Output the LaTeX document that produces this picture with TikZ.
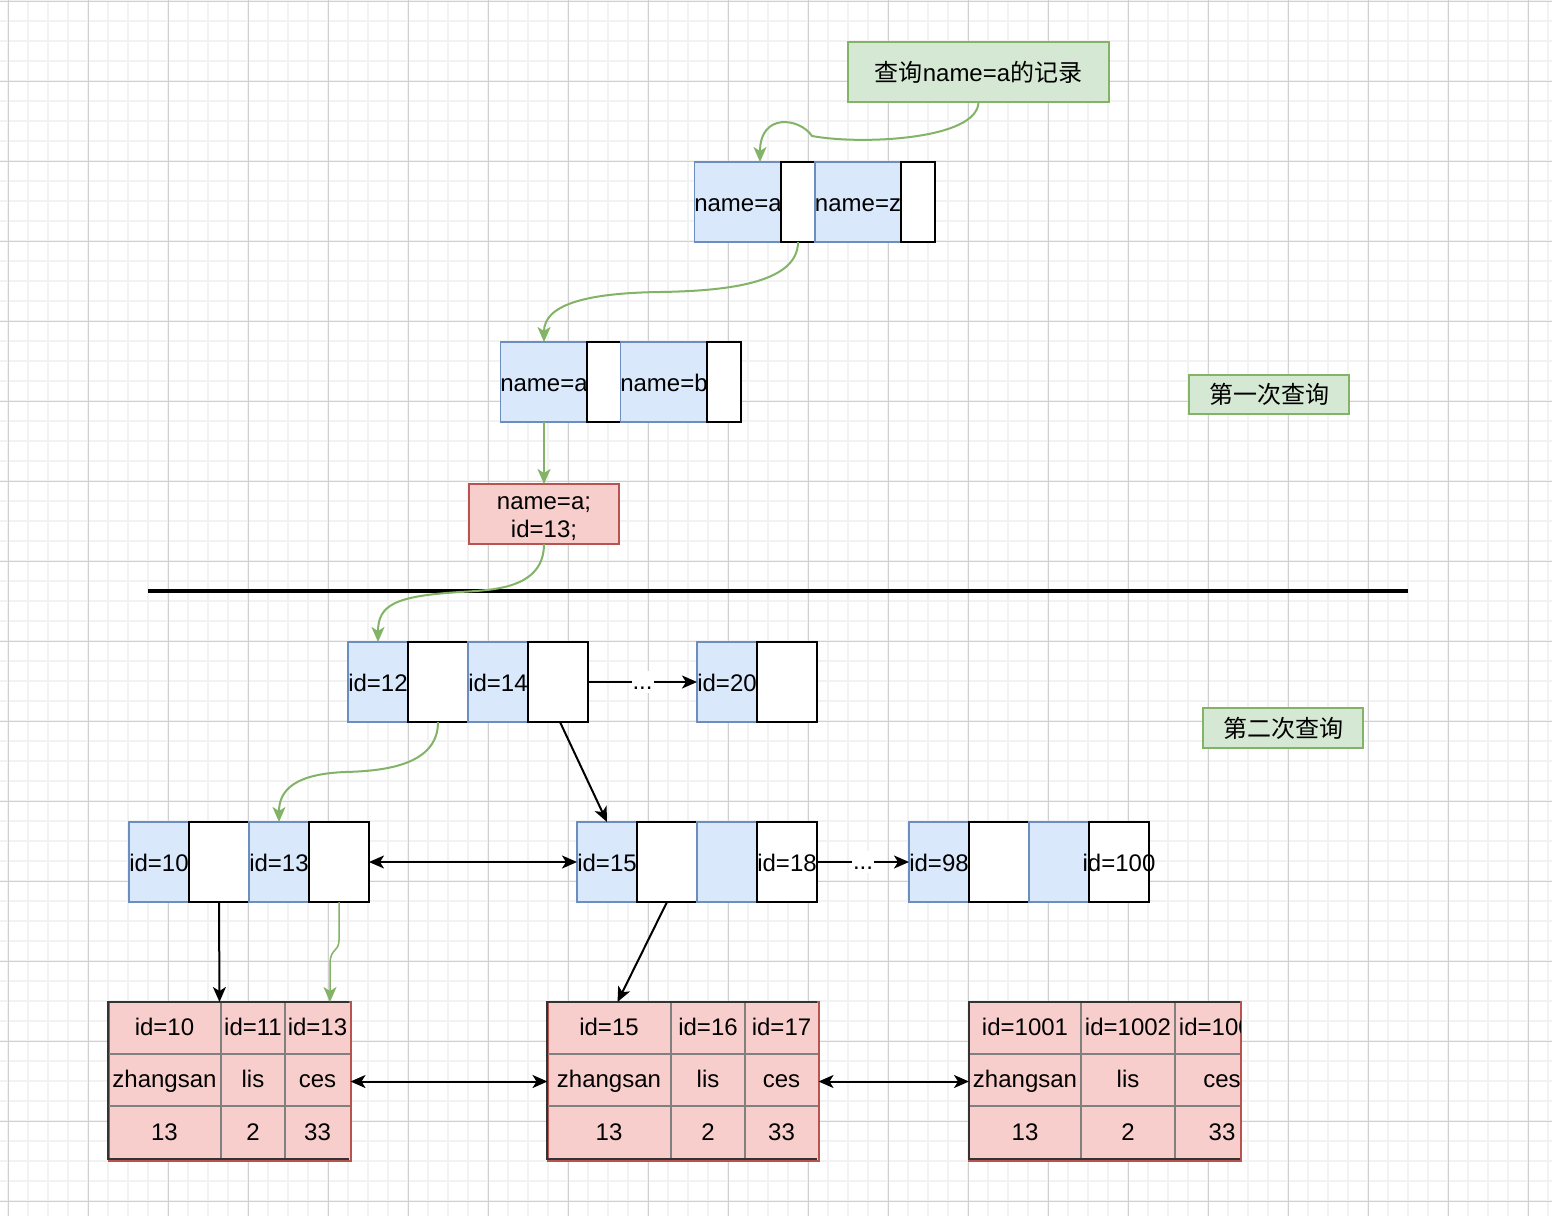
\documentclass[tikz,border=0pt]{standalone}
\usepackage{fontspec}
\setmainfont{Liberation Sans}
\newfontfamily\cjk{Noto Sans CJK SC}
\usetikzlibrary{arrows.meta,calc}
\definecolor{bfill}{HTML}{DAE8FC}
\definecolor{bline}{HTML}{6C8EBF}
\definecolor{gfill}{HTML}{D5E8D4}
\definecolor{gline}{HTML}{82B366}
\definecolor{rfill}{HTML}{F8CECC}
\definecolor{rline}{HTML}{B85450}
\definecolor{gridminor}{HTML}{F2F2F2}
\definecolor{gridmajor}{HTML}{D0D0D0}
\definecolor{tdarkc}{HTML}{333333}
\definecolor{tgrayc}{HTML}{808080}
\begin{document}
\begin{tikzpicture}[x=1pt,y=-1pt,
  every node/.style={font=\fontsize{24pt}{28pt}\selectfont, inner sep=0pt, outer sep=0pt, text height=22pt, text depth=4pt},
  bluebox/.style={rectangle, fill=bfill, draw=bline, line width=1.5pt, minimum height=80pt},
  whitebox/.style={rectangle, fill=white, draw=black, line width=2pt, minimum height=80pt},
  greenbox/.style={rectangle, fill=gfill, draw=gline, line width=2pt},
  redbox/.style={rectangle, fill=rfill, draw=rline, line width=1.5pt},
  tablebox/.style={rectangle, fill=rfill, draw=rline, line width=2pt},
  tdark/.style={draw=tdarkc, line width=2.5pt},
  tgray/.style={draw=tgrayc, line width=2pt},
  tip/.tip={Stealth[length=15pt,width=13pt,inset=4pt]},
  arr/.style={-tip, line width=2pt, draw=black},
  darr/.style={tip-tip, line width=2pt, draw=black},
  garr/.style={-tip, line width=2pt, draw=gline},
  gthin/.style={-tip, line width=1.5pt, draw=gline},
  dots/.style={fill=white, inner xsep=1pt, inner ysep=0pt, text height=18pt, text depth=4pt}
]
\useasboundingbox (0,0) rectangle (1552,1216);
% background grid
\fill[white] (0,0) rectangle (1552,1216);
\foreach \gx in {8,28,...,1548} \draw[gridminor, line width=1.5pt] (\gx,0) -- (\gx,1216);
\foreach \gy in {1,21,...,1216} \draw[gridminor, line width=1.5pt] (0,\gy) -- (1552,\gy);
\foreach \gx in {8,88,...,1548} \draw[gridmajor, line width=1pt] (\gx,0) -- (\gx,1216);
\foreach \gy in {1,81,...,1216} \draw[gridmajor, line width=1pt] (0,\gy) -- (1552,\gy);

% query label
\node[greenbox, minimum width=261pt, minimum height=60pt] (gq) at (978.5,72) {{\cjk 查询}name=a{\cjk 的记录}};
\node[greenbox, minimum width=160pt, minimum height=39pt] (l1) at (1269,394) {\cjk 第一次查询};
\node[greenbox, minimum width=160pt, minimum height=40pt] (l2) at (1283,728) {\cjk 第二次查询};

% row 1
\node[bluebox, minimum width=86pt] (r1a) at (738,202) {name=a};
\node[whitebox, minimum width=34pt] (r1b) at (798,202) {};
\node[bluebox, minimum width=86pt] (r1c) at (858,202) {name=z};
\node[whitebox, minimum width=34pt] (r1d) at (918,202) {};

% row 2
\node[bluebox, minimum width=86pt] (r2a) at (544,382) {name=a};
\node[whitebox, minimum width=34pt] (r2b) at (604,382) {};
\node[bluebox, minimum width=86pt] (r2c) at (664,382) {name=b};
\node[whitebox, minimum width=34pt] (r2d) at (724,382) {};

% result of first query
\node[redbox, minimum width=150pt, minimum height=60pt] (res) at (544,514) {};
\node[align=center, text height=, text depth=] (restext) at (544,519) {name=a;\\id=13;};

% separator
\draw[line width=3.5pt, black] (148,591) coordinate (sepL) -- (1408,591) coordinate (sepR);

% row 3
\node[bluebox, minimum width=60pt] (r3a) at (378,682) {id=12};
\node[whitebox, minimum width=60pt] (r3b) at (438,682) {};
\node[bluebox, minimum width=60pt] (r3c) at (498,682) {id=14};
\node[whitebox, minimum width=60pt] (r3d) at (558,682) {};
\node[bluebox, minimum width=60pt] (r3e) at (727,682) {id=20};
\node[whitebox, minimum width=60pt] (r3f) at (787,682) {};

% row 4
\node[bluebox, minimum width=60pt] (r4a) at (159,862) {id=10};
\node[whitebox, minimum width=60pt] (r4b) at (219,862) {};
\node[bluebox, minimum width=60pt] (r4c) at (279,862) {id=13};
\node[whitebox, minimum width=60pt] (r4d) at (339,862) {};

\node[bluebox, minimum width=60pt] (r4e) at (607,862) {id=15};
\node[whitebox, minimum width=60pt] (r4f) at (667,862) {};
\node[bluebox, minimum width=60pt] (r4g) at (727,862) {};
\node[whitebox, minimum width=60pt] (r4h) at (787,862) {id=18};

\node[bluebox, minimum width=60pt] (r4i) at (939,862) {id=98};
\node[whitebox, minimum width=60pt] (r4j) at (999,862) {};
\node[bluebox, minimum width=60pt] (r4k) at (1059,862) {};
\node[whitebox, minimum width=60pt] (r4l) at (1119,862) {};
\node (r4ltext) at (1119,862) {id=100};

% tables
% table 1
\node[tablebox, minimum width=242pt, minimum height=159pt] (t1) at (229.5,1081.5) {};
\draw[tgray] (221,1002) -- (221,1159) (285,1002) -- (285,1159)
  (108,1054) -- (350,1054) (108,1106) -- (350,1106);
\draw[tdark] (108,1160) -- (108,1002) -- (349,1002) (108,1159) -- (349,1159);
\node (t1a) at (164.5,1026) {id=10};
\node (t1b) at (253,1026) {id=11};
\node (t1c) at (317.5,1026) {id=13};
\node (t1d) at (164.5,1078) {zhangsan};
\node (t1e) at (253,1078) {lis};
\node (t1f) at (317.5,1078) {ces};
\node (t1g) at (164.5,1131) {13};
\node (t1h) at (253,1131) {2};
\node (t1i) at (317.5,1131) {33};

% table 2
\node[tablebox, minimum width=271pt, minimum height=159pt] (t2) at (683,1081.5) {};
\draw[tgray] (671,1002) -- (671,1159) (745,1002) -- (745,1159)
  (547,1054) -- (818,1054) (547,1106) -- (818,1106);
\draw[tdark] (547,1160) -- (547,1002) -- (817,1002) (547,1159) -- (817,1159);
\node (t2a) at (609,1026) {id=15};
\node (t2b) at (708,1026) {id=16};
\node (t2c) at (781.5,1026) {id=17};
\node (t2d) at (609,1078) {zhangsan};
\node (t2e) at (708,1078) {lis};
\node (t2f) at (781.5,1078) {ces};
\node (t2g) at (609,1131) {13};
\node (t2h) at (708,1131) {2};
\node (t2i) at (781.5,1131) {33};

% table 3
\node[tablebox, minimum width=272pt, minimum height=159pt] (t3) at (1105,1081.5) {};
\draw[tgray] (1081,1002) -- (1081,1159) (1175,1002) -- (1175,1159)
  (969,1054) -- (1240,1054) (969,1106) -- (1240,1106);
\draw[tdark] (969,1160) -- (969,1002) -- (1240,1002) (969,1159) -- (1240,1159);
\node (t3a) at (1025,1026) {id=1001};
\node (t3b) at (1128,1026) {id=1002};
\node (t3d) at (1025,1078) {zhangsan};
\node (t3e) at (1128,1078) {lis};
\node (t3g) at (1025,1131) {13};
\node (t3h) at (1128,1131) {2};
\begin{scope}
\clip (1170,990) rectangle (1240,1170);
\node (t3c) at (1222,1026) {id=1003};
\node (t3f) at (1222,1078) {ces};
\node (t3i) at (1222,1131) {33};
\end{scope}

% connectors - first query
\draw[garr] (gq.south) .. controls (978,140) and (860,145) .. (812,136)
  .. controls (800,118) and (760,112) .. ($(r1a.north)+(22,0)$);
\draw[garr] (r1b.south) .. controls (798,285) and (720,291) .. (660,292)
  .. controls (585,293) and (544,305) .. (r2a.north);
\draw[garr] (r2a.south) -- (res.north);

% second query
\draw[garr] (res.south) .. controls (544,590) and (490,590) .. (460,592)
  .. controls (395,596) and (378,605) .. (r3a.north);
\draw[arr] (r3d.east) -- node[dots] {...} (r3e.west);
\draw[garr] (r3b.south) .. controls (438,765) and (385,771) .. (345,772)
  .. controls (295,774) and (279,790) .. (r4c.north);
\draw[arr] ($(r3d.south)+(2,0)$) -- (r4e.north);
\draw[darr] (r4d.east) -- (r4e.west);
\draw[arr] (r4h.east) -- node[dots] {...} (r4i.west);
\draw[arr] (r4b.south) -- ($(t1.north west)+(111,0)$);
\draw[gthin] (r4d.south) -- (339,940) .. controls (339,952) and (331,948) .. (330,962) -- ($(t1.north west)+(221.5,0)$);
\draw[arr] (r4f.south) -- ($(t2.north west)+(70,0)$);
\draw[darr] (t1.east) -- (t2.west);
\draw[darr] (t2.east) -- (t3.west);
\end{tikzpicture}
\end{document}
